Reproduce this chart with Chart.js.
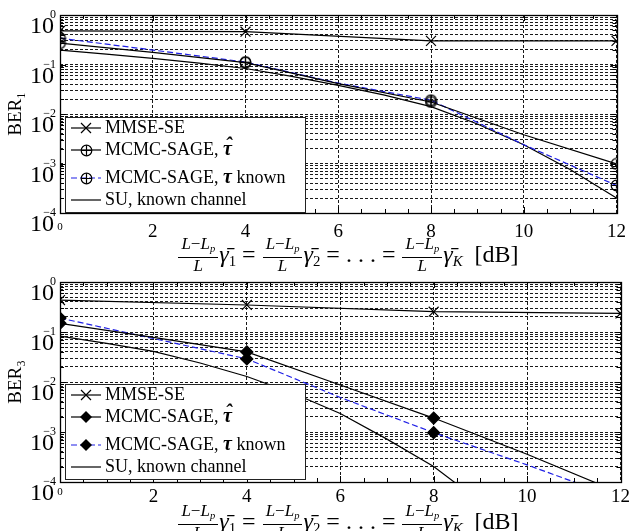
<!DOCTYPE html>
<html>
<head>
<meta charset="utf-8">
<script src="https://cdn.jsdelivr.net/npm/chart.js@4/dist/chart.umd.min.js"></script>
<style>
  html, body { margin: 0; padding: 0; background: #fff; }
  #wrap { position: relative; width: 634px; height: 531px; overflow: hidden; }
  #wrap canvas { position: absolute; left: 0; }
  .xt { position: absolute; left: 31px; width: 634px; text-align: center; white-space: nowrap;
        font-family: "Liberation Serif", serif; font-size: 24px; line-height: 24px; color: #000; }
  .fr { display: inline-block; vertical-align: -0.5em; text-align: center; font-size: 17px; line-height: 14px; margin: 0 1px; }
  .fr .nu { display: block; border-bottom: 1.3px solid #000; padding: 0 3px 1px; }
  .fr .de { display: block; padding-top: 1px; }
  .xt sub { font-size: 0.62em; vertical-align: -0.25em; }
  .xt .eq { margin: 0 6px; }
</style>
</head>
<body>
<div id="wrap">
  <canvas id="ber1" width="634" height="267" style="top:0"></canvas>
  <canvas id="ber3" width="634" height="264" style="top:267px"></canvas>
  <div class="xt" style="top:237px">
    <span class="fr"><span class="nu"><i>L</i>−<i>L<sub>p</sub></i></span><span class="de"><i>L</i></span></span><i>γ̄</i><sub>1</sub><span class="eq">=</span><span class="fr"><span class="nu"><i>L</i>−<i>L<sub>p</sub></i></span><span class="de"><i>L</i></span></span><i>γ̄</i><sub>2</sub><span class="eq">=</span>. . .<span class="eq">=</span><span class="fr"><span class="nu"><i>L</i>−<i>L<sub>p</sub></i></span><span class="de"><i>L</i></span></span><i>γ̄</i><sub><i>K</i></sub> &nbsp;[dB]
  </div>
  <div class="xt" style="top:504px">
    <span class="fr"><span class="nu"><i>L</i>−<i>L<sub>p</sub></i></span><span class="de"><i>L</i></span></span><i>γ̄</i><sub>1</sub><span class="eq">=</span><span class="fr"><span class="nu"><i>L</i>−<i>L<sub>p</sub></i></span><span class="de"><i>L</i></span></span><i>γ̄</i><sub>2</sub><span class="eq">=</span>. . .<span class="eq">=</span><span class="fr"><span class="nu"><i>L</i>−<i>L<sub>p</sub></i></span><span class="de"><i>L</i></span></span><i>γ̄</i><sub><i>K</i></sub> &nbsp;[dB]
  </div>
</div>
<script>
// --- DATA ---
const snrMmse = [0, 4, 8, 12];
const snrSage = [0, 2, 4, 6, 8, 10, 12];
const snrSu = [0, 1, 2, 3, 4, 5, 6, 7, 8, 9, 10, 11, 12];

// top panel, BER of user 1
const ber1Mmse = [0.48, 0.46, 0.30, 0.30];
const ber1SageHat = [0.27, 0.176, 0.109, 0.041, 0.0175, 0.0038, 0.00098];
const ber1SageKnown = [0.34, 0.196, 0.112, 0.042, 0.019, 0.0024, 0.00036];
const ber1Su = [0.196, 0.162, 0.133, 0.107, 0.083, 0.0575, 0.038, 0.024, 0.0141, 0.0063, 0.0024, 0.00076, 0.0002];

// bottom panel, BER of user 3
const ber3Mmse = [0.436, 0.347, 0.255, 0.235];
const ber3SageHat = [0.149, 0.078, 0.040, 0.0087, 0.0019, 0.00036, 0.00006];
const ber3SageKnown = [0.19, 0.074, 0.029, 0.0049, 0.00097, 0.00022, 0.000046];
const ber3Su = [0.083, 0.059, 0.041, 0.024, 0.0129, 0.0059, 0.00234, 0.00072, 0.000204, 0.00004];

// axis ticks
const xTicks = [0, 2, 4, 6, 8, 10, 12];
const xMinorStep = 0.5;
const yDecades = [1e-4, 1e-3, 1e-2, 1e-1, 1];
const yExpLabels = ['−4', '−3', '−2', '−1', '0'];
const yMantissas = [1, 2, 3, 4, 5, 6, 7, 8, 9];

const legendLabels = ['MMSE-SE', 'MCMC-SAGE, ', 'MCMC-SAGE, ', 'SU, known channel'];

const SERIF = '"Liberation Serif", "DejaVu Serif", serif';
const BLUE = '#1f1fe6';

// --- MARKERS ---
const oplus = document.createElement('canvas');
oplus.width = 13; oplus.height = 13;
(() => {
    const c = oplus.getContext('2d');
    c.strokeStyle = '#000';
    c.lineWidth = 1.2;
    c.beginPath(); c.arc(6.5, 6.5, 5.3, 0, Math.PI * 2); c.stroke();
    c.beginPath();
    c.moveTo(1.2, 6.5); c.lineTo(11.8, 6.5);
    c.moveTo(6.5, 1.2); c.lineTo(6.5, 11.8);
    c.stroke();
})();

const yTickValues = [];
yDecades.forEach((d, i) => {
    if (i === yDecades.length - 1) { yTickValues.push(d); return; }
    yMantissas.forEach(m => yTickValues.push(m * d));
});

const pts = (xs, ys) => ys.map((y, i) => ({ x: xs[i], y }));
const everyFour = ctx => (ctx.raw && ctx.raw.x % 4 === 0 ? 6 : 0);

function drawMarker(ctx, kind, x, y) {
    ctx.save();
    ctx.strokeStyle = '#000';
    ctx.fillStyle = '#000';
    ctx.lineWidth = 1.2;
    if (kind === 'cross') {
        ctx.beginPath();
        ctx.moveTo(x - 5, y - 5); ctx.lineTo(x + 5, y + 5);
        ctx.moveTo(x - 5, y + 5); ctx.lineTo(x + 5, y - 5);
        ctx.stroke();
    } else if (kind === 'oplus') {
        ctx.drawImage(oplus, Math.round(x - 6.5), Math.round(y - 6.5));
    } else if (kind === 'diamond') {
        ctx.beginPath();
        ctx.moveTo(x, y - 6); ctx.lineTo(x + 6, y); ctx.lineTo(x, y + 6); ctx.lineTo(x - 6, y);
        ctx.closePath(); ctx.fill();
    }
    ctx.restore();
}

// --- DECOR PLUGIN: frame, inward ticks, y labels, legend box ---
const decor = {
    id: 'decor',
    afterDraw(chart, args, opts) {
        const { ctx, chartArea: a, scales } = chart;
        const xs = scales.x, ys = scales.y;
        ctx.save();
        ctx.strokeStyle = '#000';
        ctx.lineWidth = 1;
        // inward ticks
        ctx.beginPath();
        for (let v = 0; v <= 12; v += xMinorStep) {
            const px = Math.round(xs.getPixelForValue(v)) + 0.5;
            const len = v % 2 === 0 ? 6 : 4;
            ctx.moveTo(px, a.bottom); ctx.lineTo(px, a.bottom - len);
            ctx.moveTo(px, a.top); ctx.lineTo(px, a.top + len);
        }
        yTickValues.forEach(v => {
            const py = Math.round(ys.getPixelForValue(v)) + 0.5;
            const len = yDecades.includes(v) ? 6 : 4;
            ctx.moveTo(a.left, py); ctx.lineTo(a.left + len, py);
            ctx.moveTo(a.right, py); ctx.lineTo(a.right - len, py);
        });
        ctx.stroke();
        // frame
        ctx.lineWidth = 1.3;
        ctx.strokeRect(Math.round(a.left) + 0.5, Math.round(a.top) + 0.5,
            Math.round(a.right - a.left), Math.round(a.bottom - a.top));
        // y tick labels 10^k
        ctx.fillStyle = '#000';
        ctx.textAlign = 'right';
        ctx.textBaseline = 'middle';
        yDecades.forEach((d, i) => {
            const py = ys.getPixelForValue(d);
            ctx.font = '24px ' + SERIF;
            ctx.fillText('10', a.left - 6, py + 12);
            ctx.font = '12px ' + SERIF;
            ctx.fillText(yExpLabels[i], a.left - 4, py);
        });
        // legend
        const lg = opts.legend;
        const bx = a.left + 5, by = a.top + lg.top;
        ctx.fillStyle = '#fff';
        ctx.fillRect(bx, by, 240, lg.height);
        ctx.lineWidth = 1;
        ctx.strokeStyle = '#222';
        ctx.strokeRect(bx + 0.5, by + 0.5, 240, lg.height);
        lg.items.forEach((it, i) => {
            const ry = a.top + lg.rows[i];
            ctx.save();
            ctx.strokeStyle = it.color;
            ctx.lineWidth = 1.2;
            ctx.setLineDash(it.dash || []);
            ctx.beginPath();
            ctx.moveTo(a.left + 11, ry); ctx.lineTo(a.left + 41, ry);
            ctx.stroke();
            ctx.restore();
            if (it.marker) drawMarker(ctx, it.marker, a.left + 26, ry);
            ctx.fillStyle = '#000';
            ctx.textAlign = 'left';
            ctx.textBaseline = 'middle';
            let tx = a.left + 45;
            it.parts.forEach(p => {
                ctx.font = (p.style || '') + ' ' + (p.size || 18) + 'px ' + SERIF;
                ctx.fillText(p.t, tx, ry);
                const w = ctx.measureText(p.t).width;
                if (p.hat) {
                    // circumflex above the symbol
                    ctx.textAlign = 'center';
                    ctx.fillText('ˆ', tx + w / 2 + 1, ry - 3);
                    ctx.textAlign = 'left';
                }
                tx += w;
            });
        });
        ctx.restore();
    }
};

// --- CHART BUILDER ---
function makeChart(id, label, series, marker, xAxisHeight, labelPad) {
    const sageStyle = marker === 'oplus'
        ? { pointStyle: oplus, pointRadius: everyFour }
        : { pointStyle: 'rectRot', pointRadius: everyFour, pointBackgroundColor: '#000' };
    const legendItems = [
        { color: '#000', marker: 'cross', parts: [{ t: legendLabels[0] }] },
        { color: '#000', marker, parts: [{ t: legendLabels[1] }, { t: 'τ', style: 'italic bold', size: 20, hat: true }] },
        { color: BLUE, dash: [6, 3], marker, parts: [{ t: legendLabels[2] }, { t: 'τ', style: 'italic bold', size: 20 }, { t: ' known' }] },
        { color: '#000', parts: [{ t: legendLabels[3] }] }
    ];
    return new Chart(document.getElementById(id), {
        type: 'line',
        data: {
            datasets: [
                {
                    label: legendLabels[0], data: pts(snrMmse, series.mmse),
                    borderColor: '#000', borderWidth: 1.2,
                    pointStyle: 'crossRot', pointRadius: 7, pointBorderColor: '#000', pointBorderWidth: 1.2
                },
                Object.assign({
                    label: legendLabels[1], data: pts(snrSage, series.hat),
                    borderColor: '#000', borderWidth: 1.2,
                    pointBorderColor: '#000', pointBorderWidth: 1.2
                }, sageStyle),
                Object.assign({
                    label: legendLabels[2], data: pts(snrSage, series.known),
                    borderColor: BLUE, borderWidth: 1.2, borderDash: [6, 3],
                    pointBorderColor: '#000', pointBorderWidth: 1.2
                }, sageStyle),
                {
                    label: legendLabels[3], data: pts(snrSu, series.su),
                    borderColor: '#000', borderWidth: 1.2, pointRadius: 0
                }
            ]
        },
        options: {
            responsive: false,
            animation: false,
            layout: { padding: { top: 15, right: 8, left: 0, bottom: 0 } },
            plugins: {
                legend: { display: false },
                tooltip: { enabled: false },
                decor: { legend: { top: 102, height: 95, rows: [113, 135, 163, 185], items: legendItems } }
            },
            scales: {
                x: {
                    type: 'linear', min: 0, max: 12,
                    afterBuildTicks: s => { s.ticks = xTicks.map(v => ({ value: v })); },
                    ticks: {
                        color: '#000', padding: labelPad,
                        font: c => ({ family: SERIF, size: c.tick && c.tick.value === 0 ? 11 : 19 })
                    },
                    grid: { color: 'rgba(0,0,0,0.9)', lineWidth: 1, drawTicks: false },
                    border: { display: false, dash: [3, 2] },
                    afterFit: s => { s.height = xAxisHeight; }
                },
                y: {
                    type: 'logarithmic', min: 1e-4, max: 1,
                    afterBuildTicks: s => { s.ticks = yTickValues.map(v => ({ value: v })); },
                    ticks: { autoSkip: false, callback: () => '' },
                    grid: { color: 'rgba(0,0,0,0.9)', lineWidth: 1, drawTicks: false },
                    border: { display: false, dash: [3, 2] },
                    title: { display: true, text: label, color: '#000', font: { family: SERIF, size: 19 }, padding: { top: 5, bottom: 0 } },
                    afterFit: s => { s.width = 60; }
                }
            }
        },
        plugins: [decor]
    });
}

makeChart('ber1', 'BER₁',
    { mmse: ber1Mmse, hat: ber1SageHat, known: ber1SageKnown, su: ber1Su }, 'oplus', 54, 8);
makeChart('ber3', 'BER₃',
    { mmse: ber3Mmse, hat: ber3SageHat, known: ber3SageKnown, su: ber3Su }, 'diamond', 49, 4);
</script>
</body>
</html>
